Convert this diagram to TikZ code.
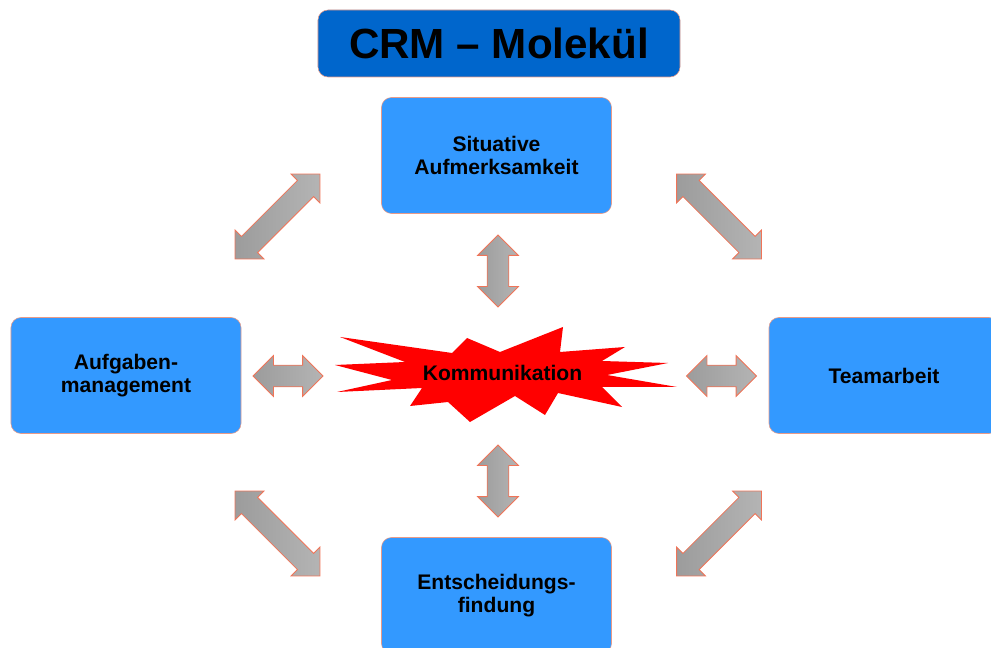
\documentclass[tikz,border=0pt]{standalone}
\usepackage{fontspec}
\setmainfont{Liberation Sans}
\usepackage{xcolor}
\usepackage{tikz}
\usetikzlibrary{shapes.arrows}
\definecolor{BoxBlue}{HTML}{3399FF}
\definecolor{TitleBlue}{HTML}{0066CC}
\definecolor{BoxEdge}{HTML}{E89A88}
\definecolor{ArrowEdge}{HTML}{F07458}
\definecolor{ArrowDark}{HTML}{9C9C9C}
\definecolor{ArrowLight}{HTML}{B4B4B4}
\definecolor{Burst}{HTML}{FF0000}

\begin{document}
\begin{tikzpicture}[
  x=0.25mm,y=-0.25mm,
  titlebox/.style={draw=BoxEdge,fill=TitleBlue,rounded corners=2.5mm,minimum width=90.5mm,minimum height=16.75mm,font=\fontsize{30}{32}\selectfont\bfseries},
  topic/.style={draw=BoxEdge,fill=BoxBlue,rounded corners=2.5mm,minimum width=57.5mm,minimum height=29mm,align=center,font=\fontsize{15}{16.5}\selectfont\bfseries},
  link/.style={double arrow,draw=ArrowEdge,line width=0.6pt,left color=ArrowDark,right color=ArrowLight,inner xsep=0pt,inner ysep=2.6mm,double arrow head extend=2.4mm,minimum height=17.5mm},
  longlink/.style={link,inner ysep=2.75mm,double arrow head extend=2.25mm,minimum height=30mm}
]
\useasboundingbox (0,0) rectangle (991,648);
\clip (0,0) rectangle (991,648);
\node[titlebox] (title) at (499,43.5) {CRM -- Molekül};
\node[topic] (sit) at (496.5,155.5) {Situative\\Aufmerksamkeit};
\node[topic] (aufg) at (126,375.5) {Aufgaben-\\management};
\node[topic] (team) at (884,375.5) {Teamarbeit};
\node[topic] (ent) at (496.5,595.5) {Entscheidungs-\\findung};
% Kommunikation burst
\fill[Burst] (340,337) -- (452,353) -- (467,338) -- (500,352) -- (563,327) -- (560,352)
  -- (625,347) -- (602,361) -- (668,363) -- (607,375) -- (677,387) -- (602,387)
  -- (622,407) -- (558,393) -- (545,415) -- (515,396) -- (470,422) -- (448,402)
  -- (410,406) -- (422,388) -- (337,392) -- (392,380) -- (335,365) -- (405,362) -- cycle;
\node[font=\fontsize{15}{16.5}\selectfont\bfseries] (kom) at (502.5,373) {Kommunikation};
% arrows
\node[link,rotate=90,minimum height=18mm] (a1) at (498,271) {};
\node[link,rotate=90,minimum height=18mm] (a2) at (498,481) {};
\node[link] (a3) at (288,376) {};
\node[link] (a4) at (721.5,376) {};
\node[longlink,rotate=45] (a5) at (277.5,216.5) {};
\node[longlink,rotate=-45] (a6) at (719,216.5) {};
\node[longlink,rotate=-45] (a7) at (277.5,533.5) {};
\node[longlink,rotate=45] (a8) at (719,533.5) {};
\end{tikzpicture}
\end{document}
